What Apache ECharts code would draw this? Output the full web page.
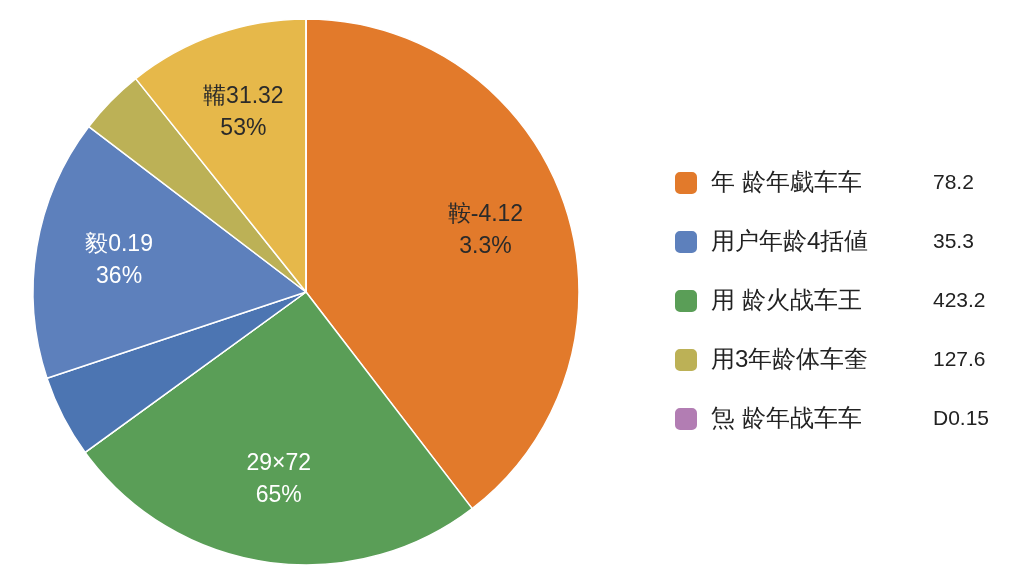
<!DOCTYPE html>
<html><head><meta charset="utf-8">
<script src="https://cdn.jsdelivr.net/npm/echarts@6/dist/echarts.min.js"></script>
<style>html,body{margin:0;background:#fff}#c{width:1024px;height:576px}</style>
</head><body><div id="c"></div>
<script>
const sliceNames = ['年 龄年戱车车','29×72g','用 龄火战车王','暗蓝','用户年龄4括値','用3年龄体车奎','金','炰 龄年战车车'];
const sliceValues = [142.5, 91.5, 0, 17.6, 55.7, 14.1, 38.6, 0];
const sliceColors = ['#E27A2B','#5A9E57','#5A9E57','#4C75B2','#5D80BC','#BCB156','#E6B84A','#B27DB3'];
const insideLabels = {'年 龄年戱车车':'鞍-4.12\n3.3%','29×72g':'29×72\n65%','用户年龄4括値':'毅0.19\n36%','金':'鞴31.32\n53%'};
const labelColors = {'年 龄年戱车车':'#2a2a2a','29×72g':'#fff','用户年龄4括値':'#fff','金':'#2a2a2a'};
const legendNames = ['年 龄年戱车车','用户年龄4括値','用 龄火战车王','用3年龄体车奎','炰 龄年战车车'];
const legendValues = ['78.2','35.3','423.2','127.6','D0.15'];

const data = sliceNames.map((n,i)=>({name:n,value:sliceValues[i],itemStyle:{color:sliceColors[i]}}));
const chart = echarts.init(document.getElementById('c'));
chart.setOption({
  animation:false,
  legend:{orient:'vertical',left:668,top:165,itemWidth:24,itemHeight:24,itemGap:33,
    data:legendNames,
    formatter:n=>'{a|'+n+'}{b|'+legendValues[legendNames.indexOf(n)]+'}',
    textStyle:{fontSize:24,color:'#222',rich:{a:{fontSize:24,width:222,color:'#222',padding:[0,0,0,8]},b:{fontSize:21,color:'#222'}}}},
  series:[
    {type:'pie',center:[306,292],radius:[0,273],startAngle:90,clockwise:true,minAngle:0,
     avoidLabelOverlap:false,label:{show:false},labelLine:{show:false},
     itemStyle:{borderColor:'#fff',borderWidth:1.5},data:data,silent:true},
    {type:'pie',center:[306,292],radius:[100,273],startAngle:90,clockwise:true,
     avoidLabelOverlap:false,silent:true,legendHoverLink:false,
     itemStyle:{color:'rgba(0,0,0,0)'},labelLine:{show:false},
     label:{show:true,position:'inside',fontSize:23,lineHeight:32},
     data:sliceNames.map((n,i)=>({name:n+' ',value:sliceValues[i],
       label:{color:labelColors[n]||'#fff',formatter:insideLabels[n]||''}}))}
  ]
});
</script></body></html>
